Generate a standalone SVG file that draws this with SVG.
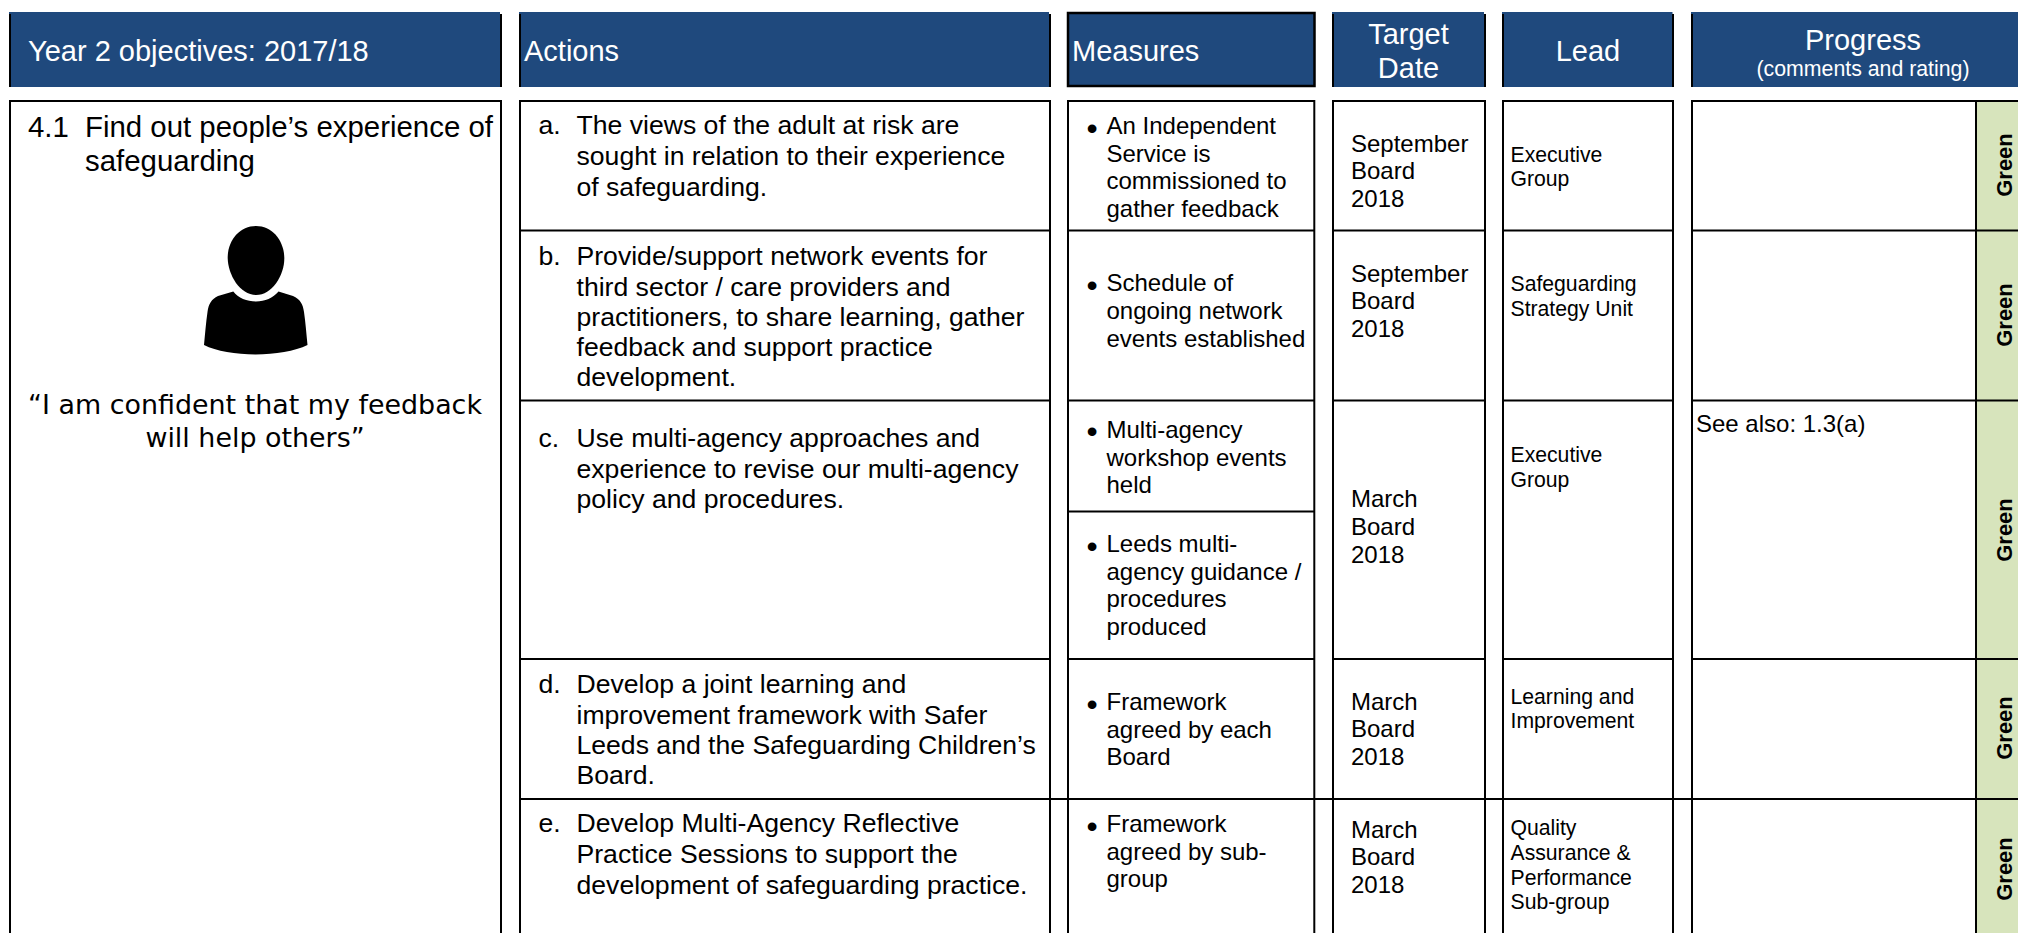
<svg xmlns="http://www.w3.org/2000/svg" width="2018" height="933" viewBox="0 0 2018 933">
<style>
text{font-family:"Liberation Sans",Arial,sans-serif;fill:#000}
.h{fill:#fff;font-size:29px}
.c{text-anchor:middle}
.o{font-size:29.4px}
.q{font-family:"DejaVu Sans",Verdana,sans-serif;font-size:26.9px;text-anchor:middle}
.a{font-size:26.6px}
.m{font-size:24px}
.bu{font-size:32px}
.l{font-size:21.2px}
.r{font-size:22px;font-weight:bold;text-anchor:middle}
.hd{fill:#1f497d}
.e{stroke:#000;stroke-width:2;fill:none}
.b{fill:#fff;stroke:#000;stroke-width:2}
.ln{stroke:#000;stroke-width:2;fill:none}
.g{fill:#d7e4bc}
</style>
<rect width="2018" height="933" fill="#fff"/>
<g id="headers">
<g id="h1"><rect class="hd" x="9" y="12" width="491" height="75"/><path class="e" d="M10 14V87M501 14V87"/><text class="h" x="28" y="61">Year 2 objectives: 2017/18</text></g>
<g id="h2"><rect class="hd" x="519" y="12" width="530" height="75"/><path class="e" d="M520 14V87M1050 14V87"/><text class="h" x="524" y="61">Actions</text></g>
<g id="h3"><rect class="hd" x="1068" y="13" width="246.500" height="73" stroke="#000" stroke-width="2.500"/><text class="h" x="1072" y="61">Measures</text></g>
<g id="h4"><rect class="hd" x="1332" y="12" width="152" height="75"/><path class="e" d="M1333 14V87M1485 14V87"/><text class="h c" x="1408.500" y="44">Target</text><text class="h c" x="1408.500" y="78">Date</text></g>
<g id="h5"><rect class="hd" x="1502" y="12" width="170.500" height="75"/><path class="e" d="M1503 14V87M1673 14V87"/><text class="h c" x="1588" y="61">Lead</text></g>
<g id="h6"><rect class="hd" x="1691" y="12" width="327" height="75"/><path class="e" d="M1692 14V87"/><text class="h c" x="1863" y="50">Progress</text><text class="h c" x="1863" y="76" style="font-size:21.3px">(comments and rating)</text></g>
</g>
<g id="objective">
<rect class="b" x="10" y="101" width="491" height="840"/>
<text class="o" x="28" y="137">4.1</text><text class="o" x="85" y="137">Find out people’s experience of</text><text class="o" x="85" y="171">safeguarding</text>
<g id="person"><path d="M233.300 291.500C238 298 247 301.500 256 301.500C265 301.500 273 298 278.500 291.500L293 296C300 299 303 304 304 312C305.500 322 306.500 335 307.500 345C295 351 275 354.500 255.500 354.500C236 354.500 216 351 204 345C205 335 206 322 207.500 312C208.500 304 211.500 299 218 296Z" fill="#000"/><path d="M256 226C272 226 284 240 284.300 258C284.500 275 272 295 256 295C240 295 228 275 227.700 258C227.500 240 240 226 256 226Z" fill="#000"/></g>
<text class="q" x="255" y="414">“I am confident that my feedback</text><text class="q" x="255" y="447">will help others”</text>
</g>
<g id="progress-fill"><rect class="b" x="1692" y="101" width="328" height="840"/><rect class="g" x="1976" y="102" width="42" height="831"/></g>
<g id="columns">
<rect class="b" x="520" y="101" width="530" height="840"/>
<rect class="b" x="1068" y="101" width="246.300" height="840"/>
<rect class="b" x="1333" y="101" width="152" height="840"/>
<rect class="b" x="1503" y="101" width="170" height="840"/>
</g>
<g id="connectors">
<path class="ln" d="M520 230.500H1050M1068 230.500H1314.300M1333 230.500H1485M1503 230.500H1673M1692 230.500H2018"/>
<path class="ln" d="M520 400.500H1050M1068 400.500H1314.300M1333 400.500H1485M1503 400.500H1673M1692 400.500H2018"/>
<path class="ln" d="M1068 511.500H1314.300"/>
<path class="ln" d="M520 659H1050M1068 659H1314.300M1333 659H1485M1503 659H1673M1692 659H2018"/>
<path class="ln" d="M520 799H2018"/>
<path d="M1976 101V933" stroke="#000" stroke-width="2"/>
</g>
<g id="actions" class="a">
<text x="538.500" y="134">a.</text><text x="576.500" y="134">The views of the adult at risk are</text><text x="576.500" y="165">sought in relation to their experience</text><text x="576.500" y="196">of safeguarding.</text>
<text x="538.500" y="265">b.</text><text x="576.500" y="265">Provide/support network events for</text><text x="576.500" y="295.500">third sector / care providers and</text><text x="576.500" y="325.500">practitioners, to share learning, gather</text><text x="576.500" y="356">feedback and support practice</text><text x="576.500" y="386">development.</text>
<text x="538.500" y="447">c.</text><text x="576.500" y="447">Use multi-agency approaches and</text><text x="576.500" y="478">experience to revise our multi-agency</text><text x="576.500" y="508">policy and procedures.</text>
<text x="538.500" y="693">d.</text><text x="576.500" y="693">Develop a joint learning and</text><text x="576.500" y="723.500">improvement framework with Safer</text><text x="576.500" y="754">Leeds and the Safeguarding Children’s</text><text x="576.500" y="784">Board.</text>
<text x="538.500" y="832">e.</text><text x="576.500" y="832">Develop Multi-Agency Reflective</text><text x="576.500" y="862.500">Practice Sessions to support the</text><text x="576.500" y="894">development of safeguarding practice.</text>
</g>
<g id="measures" class="m">
<text class="bu" x="1086.500" y="138.500">•</text><text x="1106.500" y="134">An Independent</text><text x="1106.500" y="161.500">Service is</text><text x="1106.500" y="189">commissioned to</text><text x="1106.500" y="217">gather feedback</text>
<text class="bu" x="1086.500" y="295.500">•</text><text x="1106.500" y="291">Schedule of</text><text x="1106.500" y="319">ongoing network</text><text x="1106.500" y="346.500">events established</text>
<text class="bu" x="1086.500" y="442">•</text><text x="1106.500" y="437.500">Multi-agency</text><text x="1106.500" y="465.500">workshop events</text><text x="1106.500" y="493">held</text>
<text class="bu" x="1086.500" y="556.500">•</text><text x="1106.500" y="552">Leeds multi-</text><text x="1106.500" y="580">agency guidance /</text><text x="1106.500" y="607">procedures</text><text x="1106.500" y="635">produced</text>
<text class="bu" x="1086.500" y="714.500">•</text><text x="1106.500" y="710">Framework</text><text x="1106.500" y="738">agreed by each</text><text x="1106.500" y="764.500">Board</text>
<text class="bu" x="1086.500" y="836.500">•</text><text x="1106.500" y="832">Framework</text><text x="1106.500" y="860">agreed by sub-</text><text x="1106.500" y="887">group</text>
</g>
<g id="dates" class="m">
<text x="1351" y="151.500">September</text><text x="1351" y="179">Board</text><text x="1351" y="206.500">2018</text>
<text x="1351" y="281.500">September</text><text x="1351" y="309">Board</text><text x="1351" y="337">2018</text>
<text x="1351" y="507">March</text><text x="1351" y="534.500">Board</text><text x="1351" y="563">2018</text>
<text x="1351" y="710">March</text><text x="1351" y="737">Board</text><text x="1351" y="764.500">2018</text>
<text x="1351" y="838">March</text><text x="1351" y="864.500">Board</text><text x="1351" y="893">2018</text>
</g>
<g id="leads" class="l">
<text x="1510.500" y="161.500">Executive</text><text x="1510.500" y="186">Group</text>
<text x="1510.500" y="291">Safeguarding</text><text x="1510.500" y="315.500">Strategy Unit</text>
<text x="1510.500" y="461.500">Executive</text><text x="1510.500" y="487">Group</text>
<text x="1510.500" y="703.500">Learning and</text><text x="1510.500" y="728">Improvement</text>
<text x="1510.500" y="834.500">Quality</text><text x="1510.500" y="859.500">Assurance &amp;</text><text x="1510.500" y="884.500">Performance</text><text x="1510.500" y="908.500">Sub-group</text>
</g>
<g id="progress"><text class="m" x="1696" y="431.500">See also: 1.3(a)</text></g>
<g id="ratings" class="r">
<text transform="translate(2012 165) rotate(-90)">Green</text>
<text transform="translate(2012 315) rotate(-90)">Green</text>
<text transform="translate(2012 530) rotate(-90)">Green</text>
<text transform="translate(2012 728) rotate(-90)">Green</text>
<text transform="translate(2012 869) rotate(-90)">Green</text>
</g>
</svg>
